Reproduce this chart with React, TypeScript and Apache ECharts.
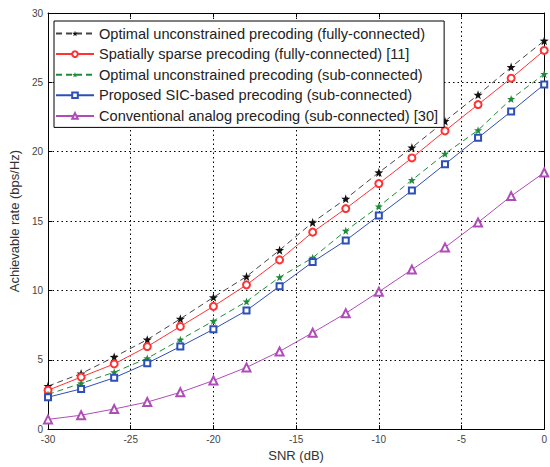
import React, { useEffect, useRef } from "react";
import * as echarts from "echarts";

const snr = [-30, -28, -26, -24, -22, -20, -18, -16, -14, -12, -10, -8, -6, -4, -2, 0];
const optFully = [3.1, 4.0, 5.2, 6.45, 7.95, 9.5, 11.0, 12.9, 14.9, 16.6, 18.5, 20.3, 22.2, 24.1, 26.1, 28.0];
const sparseFully = [2.8, 3.75, 4.7, 5.95, 7.4, 8.85, 10.4, 12.2, 14.2, 15.9, 17.7, 19.55, 21.5, 23.4, 25.3, 27.3];
const optSub = [2.5, 3.3, 4.1, 5.1, 6.45, 7.8, 9.2, 10.95, 12.35, 14.3, 16.05, 17.95, 19.85, 21.55, 23.8, 25.6];
const sicSub = [2.3, 2.9, 3.7, 4.75, 5.95, 7.2, 8.55, 10.3, 12.05, 13.6, 15.4, 17.2, 19.1, 21.0, 22.9, 24.85];
const analogSub = [0.7, 1.0, 1.45, 1.95, 2.65, 3.5, 4.45, 5.6, 6.95, 8.35, 9.9, 11.5, 13.1, 14.9, 16.8, 18.5];

const seriesNames = [
  "Optimal unconstrained precoding (fully-connected)",
  "Spatially sparse precoding (fully-connected) [11]",
  "Optimal unconstrained precoding (sub-connected)",
  "Proposed SIC-based precoding (sub-connected)",
  "Conventional analog precoding (sub-connected) [30]",
];
const xLabel = "SNR (dB)";
const yLabel = "Achievable rate (bps/Hz)";

const STAR =
  "path://M0,-10 L2.35,-3.24 L9.51,-3.09 L3.8,1.24 L5.88,8.09 L0,4 L-5.88,8.09 L-3.8,1.24 L-9.51,-3.09 L-2.35,-3.24 Z";

export default function App() {
  const ref = useRef<HTMLDivElement>(null);
  useEffect(() => {
    if (!ref.current) return;
    const chart = echarts.init(ref.current, null, { renderer: "svg" });
    const font = "Liberation Sans, Arial, sans-serif";
    const mk = (vals: number[]) => snr.map((x, i) => [x, vals[i]]);
    const axisCommon = {
      axisLine: { show: true, onZero: false, lineStyle: { color: "#000", width: 1 } },
      axisTick: { show: true, inside: true, length: 4, lineStyle: { color: "#000" } },
    };
    chart.setOption({
      animation: false,
      backgroundColor: "#fff",
      textStyle: { fontFamily: font },
      grid: { left: 43, right: 2, top: 13, bottom: 30, containLabel: false },
      legend: {
        orient: "vertical",
        left: 54,
        top: 21,
        padding: [5, 6, 4, 1],
        itemGap: 5.6,
        itemWidth: 38,
        itemHeight: 7,
        itemTextGap: 2,
        backgroundColor: "#fff",
        borderColor: "#000",
        borderWidth: 1,
        borderRadius: 0,
        textStyle: { fontSize: 14.6, color: "#222", fontFamily: font },
        data: seriesNames,
      },
      xAxis: [
        {
          type: "value",
          min: -30,
          max: 0,
          interval: 5,
          ...axisCommon,
          axisLabel: { fontSize: 10, color: "#444", margin: 5 },
          splitLine: { show: true, lineStyle: { color: "#000", type: [1.5, 3], width: 1 } },
          name: xLabel,
          nameLocation: "middle",
          nameGap: 15,
          nameTextStyle: { fontSize: 13, color: "#333" },
        },
        {
          type: "value",
          position: "top",
          min: -30,
          max: 0,
          interval: 5,
          ...axisCommon,
          axisLabel: { show: false },
          splitLine: { show: false },
        },
      ],
      yAxis: [
        {
          type: "value",
          min: 0,
          max: 30,
          interval: 5,
          ...axisCommon,
          axisLabel: { fontSize: 10, color: "#444", margin: 5 },
          splitLine: { show: true, lineStyle: { color: "#000", type: [1.5, 3], width: 1 } },
          name: yLabel,
          nameLocation: "middle",
          nameGap: 22,
          nameRotate: 90,
          nameTextStyle: { fontSize: 13, color: "#333" },
        },
        {
          type: "value",
          position: "right",
          min: 0,
          max: 30,
          interval: 5,
          ...axisCommon,
          axisLabel: { show: false },
          splitLine: { show: false },
        },
      ],
      series: [
        {
          name: seriesNames[0],
          type: "line",
          data: mk(optFully),
          symbol: STAR,
          symbolSize: 9,
          itemStyle: { color: "#111" },
          lineStyle: { color: "#444", width: 1, type: [6, 4] },
        },
        {
          name: seriesNames[1],
          type: "line",
          data: mk(sparseFully),
          symbol: "emptyCircle",
          symbolSize: 7,
          itemStyle: { color: "#f33", borderWidth: 1.2 },
          lineStyle: { color: "#f33", width: 1 },
        },
        {
          name: seriesNames[2],
          type: "line",
          data: mk(optSub),
          symbol: STAR,
          symbolSize: 8,
          itemStyle: { color: "#1e8a3a" },
          lineStyle: { color: "#1e8a3a", width: 1, type: [6, 4] },
        },
        {
          name: seriesNames[3],
          type: "line",
          data: mk(sicSub),
          symbol: "emptyRect",
          symbolSize: 6,
          itemStyle: { color: "#2d4fb8", borderWidth: 1.2 },
          lineStyle: { color: "#2d4fb8", width: 1 },
        },
        {
          name: seriesNames[4],
          type: "line",
          data: mk(analogSub),
          symbol: "emptyTriangle",
          symbolSize: 8,
          itemStyle: { color: "#b04cb8", borderWidth: 1.2 },
          lineStyle: { color: "#b04cb8", width: 1 },
        },
      ],
    });
    return () => chart.dispose();
  }, []);
  return (
    <div
      ref={ref}
      style={{ position: "fixed", left: 0, top: 0, width: 550, height: 467 }}
    />
  );
}
